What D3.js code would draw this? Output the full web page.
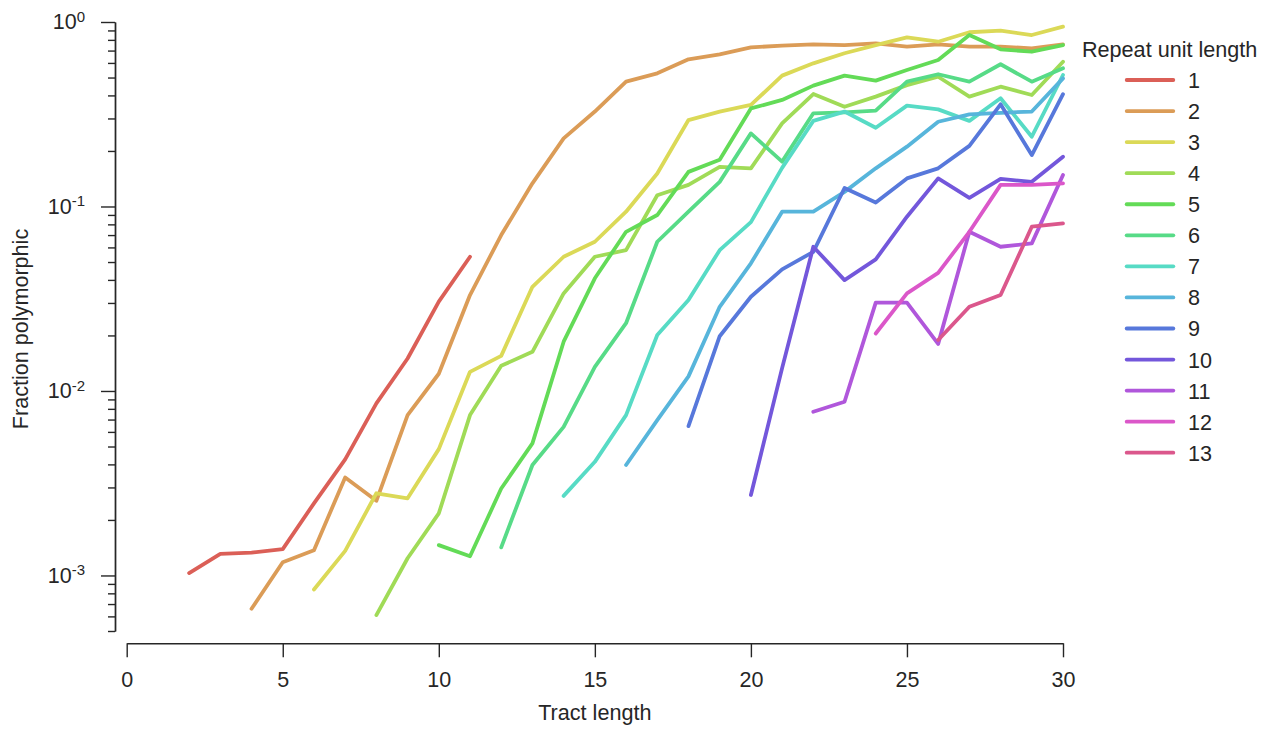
<!DOCTYPE html>
<html>
<head>
<meta charset="utf-8">
<script src="https://cdn.jsdelivr.net/npm/d3@7"></script>
<style>
  body { margin: 0; background: #fff; }
  svg { display: block; font-family: "Liberation Sans", Arial, sans-serif; }
  .axis path, .axis line { stroke: #262626; stroke-width: 1.4; }
  .axis text { fill: #262626; font-size: 21.5px; font-family: "Liberation Sans", Arial, sans-serif; }
  .label { fill: #262626; font-size: 21.6px; }
</style>
</head>
<body>
<svg id="chart" width="1270" height="729"></svg>
<script>
// repeat unit lengths and the first tract length of each series
var unitLengths = [1, 2, 3, 4, 5, 6, 7, 8, 9, 10, 11, 12, 13];
var firstTract  = [2, 4, 6, 8, 10, 12, 14, 16, 18, 20, 22, 24, 26];

// fraction polymorphic, one value per tract length starting at firstTract
var frac1  = [0.00103, 0.00131, 0.00133, 0.00139, 0.00246, 0.00426, 0.00857, 0.0150, 0.0305, 0.0534];
var frac2  = [0.00066, 0.00118, 0.00137, 0.00340, 0.00254, 0.0074, 0.0124, 0.0331, 0.070, 0.1335, 0.234, 0.327, 0.475, 0.527,
              0.628, 0.668, 0.729, 0.744, 0.757, 0.750, 0.766, 0.735, 0.757, 0.735, 0.735, 0.720, 0.757];
var frac3  = [0.00084, 0.00136, 0.00279, 0.00262, 0.00484, 0.0127, 0.0155, 0.0367, 0.0534, 0.0644, 0.0937, 0.151, 0.294,
              0.327, 0.355, 0.512, 0.597, 0.677, 0.750, 0.826, 0.782, 0.880, 0.897, 0.850, 0.943];
var frac4  = [0.00061, 0.00124, 0.00217, 0.0074, 0.0137, 0.0163, 0.0338, 0.0534, 0.058, 0.115, 0.131, 0.164, 0.161, 0.282,
              0.407, 0.347, 0.394, 0.455, 0.505, 0.394, 0.446, 0.402, 0.609];
var frac5  = [0.00146, 0.00127, 0.00296, 0.0052, 0.0185, 0.0408, 0.0729, 0.0899, 0.154, 0.179, 0.340, 0.378, 0.452, 0.512,
              0.481, 0.549, 0.622, 0.850, 0.711, 0.690, 0.750];
var frac6  = [0.00142, 0.00397, 0.00639, 0.0135, 0.0233, 0.0644, 0.0937, 0.136, 0.249, 0.175, 0.320, 0.324, 0.331, 0.475,
              0.521, 0.475, 0.590, 0.475, 0.561];
var frac7  = [0.00270, 0.00413, 0.0074, 0.0201, 0.0311, 0.058, 0.0823, 0.162, 0.291, 0.327, 0.267, 0.352, 0.336, 0.291,
              0.386, 0.239, 0.516];
var frac8  = [0.00397, 0.00695, 0.0120, 0.0286, 0.0492, 0.0937, 0.0937, 0.120, 0.161, 0.211, 0.288, 0.316, 0.322, 0.327, 0.495];
var frac9  = [0.00645, 0.0198, 0.0324, 0.0456, 0.0568, 0.126, 0.105, 0.142, 0.161, 0.213, 0.358, 0.190, 0.406];
var frac10 = [0.00273, 0.0133, 0.0605, 0.0399, 0.0517, 0.088, 0.142, 0.1115, 0.141, 0.136, 0.186];
var frac11 = [0.00771, 0.00874, 0.0301, 0.0301, 0.0180, 0.0729, 0.0605, 0.0631, 0.148];
var frac12 = [0.0205, 0.0338, 0.0437, 0.0729, 0.131, 0.131, 0.1335];
var frac13 = [0.0189, 0.0286, 0.0331, 0.0777, 0.081];

var fractions = [frac1, frac2, frac3, frac4, frac5, frac6, frac7, frac8, frac9, frac10, frac11, frac12, frac13];

// axis ticks
var xTicks = [0, 5, 10, 15, 20, 25, 30];
var yMajorTicks = [1e-3, 1e-2, 1e-1, 1];
var yDomain = [5e-4, 1];

var svg = d3.select("#chart");

var x = d3.scaleLinear().domain([0, 30]).range([126.7, 1063]);
var y = d3.scaleLog().domain(yDomain).range([631, 22]);

// seaborn "hls" palette
var color = d3.scaleOrdinal().domain(unitLengths).range(unitLengths.map(function(d, i) {
  return d3.hsl(((i / unitLengths.length + 0.01) % 1) * 360, 0.65, 0.6).toString();
}));

// minor ticks: 2..9 x 10^k inside the domain
var yMinorTicks = [];
[-4, -3, -2, -1].forEach(function(k) {
  for (var m = 2; m <= 9; m++) {
    var v = m * Math.pow(10, k);
    if (v >= yDomain[0] - 1e-12 && v < yDomain[1]) yMinorTicks.push(v);
  }
});

// x axis
svg.append("g").attr("class", "axis").attr("transform", "translate(0,643.3)")
   .call(d3.axisBottom(x).tickValues(xTicks).tickSize(14).tickPadding(14).tickSizeOuter(0));

// y axis (minor then major)
svg.append("g").attr("class", "axis").attr("transform", "translate(115,0)")
   .call(d3.axisLeft(y).tickValues(yMinorTicks).tickSize(7).tickFormat("").tickSizeOuter(0));
var yAxis = svg.append("g").attr("class", "axis").attr("transform", "translate(115,0)")
   .call(d3.axisLeft(y).tickValues(yMajorTicks).tickSize(14).tickPadding(16).tickSizeOuter(0));

yAxis.selectAll(".tick text").each(function(d) {
  var t = d3.select(this).text("");
  t.append("tspan").text("10");
  t.append("tspan").attr("font-size", "15px").attr("dy", -7.6).text(String(Math.round(Math.log10(d))));
});

// axis labels
svg.append("text").attr("class", "label").attr("text-anchor", "middle")
   .attr("x", (x.range()[0] + x.range()[1]) / 2).attr("y", 720).text("Tract length");
svg.append("text").attr("class", "label").attr("text-anchor", "middle")
   .attr("transform", "translate(28,329) rotate(-90)").text("Fraction polymorphic");

// series lines
var line = d3.line().x(function(d) { return x(d.t); }).y(function(d) { return y(d.v); });

var series = unitLengths.map(function(u, i) {
  return { unit: u, points: fractions[i].map(function(v, j) { return { t: firstTract[i] + j, v: v }; }) };
});

svg.append("g").selectAll("path").data(series).enter().append("path")
   .attr("d", function(d) { return line(d.points); })
   .attr("fill", "none")
   .attr("stroke", function(d) { return color(d.unit); })
   .attr("stroke-width", 3.8)
   .attr("stroke-linecap", "round")
   .attr("stroke-linejoin", "round");

// legend
var legend = svg.append("g").attr("transform", "translate(1082,0)");
legend.append("text").attr("class", "label").attr("x", 0).attr("y", 57).text("Repeat unit length");

var entries = legend.selectAll("g.entry").data(unitLengths).enter().append("g").attr("class", "entry")
   .attr("transform", function(d, i) { return "translate(0," + (80 + 31.06 * i) + ")"; });
entries.append("line").attr("x1", 44.7).attr("x2", 91.3).attr("y1", 0).attr("y2", 0)
   .attr("stroke", function(d) { return color(d); }).attr("stroke-width", 3.8).attr("stroke-linecap", "round");
entries.append("text").attr("class", "label").attr("x", 106).attr("y", 8).text(function(d) { return d; });
</script>
</body>
</html>
